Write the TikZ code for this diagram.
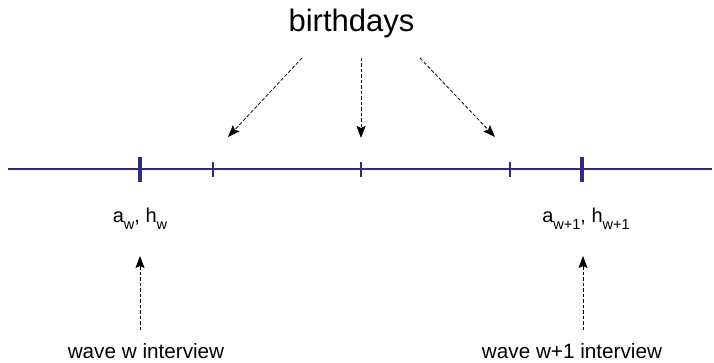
\documentclass[tikz,border=0pt]{standalone}
\usepackage{fontspec}
\setmainfont{Liberation Sans}
\usetikzlibrary{arrows.meta}
\definecolor{navy}{RGB}{44,44,128}
\newcommand{\lowsub}[1]{\raisebox{-0.3em}{\fontsize{14.5}{14.5}\selectfont #1}}
\begin{document}
\begin{tikzpicture}[x=1pt,y=-1pt,
  axis/.style={draw=navy,line width=2pt},
  bigtick/.style={draw=navy,line width=4.5pt},
  smalltick/.style={draw=navy,line width=1.8pt},
  ptr/.style={draw=black,line width=0.8pt,dash pattern=on 3.5pt off 2pt,
    -{Stealth[length=12pt,width=9pt,inset=2pt]}},
  lbl/.style={inner sep=0pt,anchor=base,font=\fontsize{20}{24}\selectfont}
  ]
\useasboundingbox (0,0) rectangle (714,363);
% axis
\coordinate (L) at (8,169);
\coordinate (R) at (712,169);
\draw[axis] (L) -- (R);
% ticks
\coordinate (t1a) at (140,157); \coordinate (t1b) at (140,182);
\coordinate (t2a) at (582,157); \coordinate (t2b) at (582,182);
\draw[bigtick] (t1a) -- (t1b);
\draw[bigtick] (t2a) -- (t2b);
\foreach \x/\n in {213/s1,361/s2,510/s3}{
  \coordinate (\n a) at (\x,162); \coordinate (\n b) at (\x,177);
  \draw[smalltick] (\n a) -- (\n b);
}
% birthdays
\node[inner sep=0pt,anchor=base,font=\fontsize{31}{36}\selectfont] (bd) at (351.5,32) {birthdays};
\coordinate (b1s) at (302,58); \coordinate (b1e) at (228,137);
\coordinate (b2s) at (361,58); \coordinate (b2e) at (361,138);
\coordinate (b3s) at (420,58); \coordinate (b3e) at (495,137);
\draw[ptr] (b1s) -- (b1e);
\draw[ptr] (b2s) -- (b2e);
\draw[ptr] (b3s) -- (b3e);
% labels
\node[lbl] (aw) at (140,223) {a\lowsub{w}, h\lowsub{w}};
\node[lbl] (aw1) at (586,223) {a\lowsub{w+1}, h\lowsub{w+1}};
% interviews
\node[lbl,font=\fontsize{20.7}{24}\selectfont] (iw) at (146,358.5) {wave w interview};
\node[lbl,font=\fontsize{20.7}{24}\selectfont] (iw1) at (572,358.5) {wave w+1 interview};
\coordinate (i1s) at (140,330); \coordinate (i1e) at (140,256);
\coordinate (i2s) at (583,330); \coordinate (i2e) at (583,256);
\draw[ptr] (i1s) -- (i1e);
\draw[ptr] (i2s) -- (i2e);
\end{tikzpicture}
\end{document}
